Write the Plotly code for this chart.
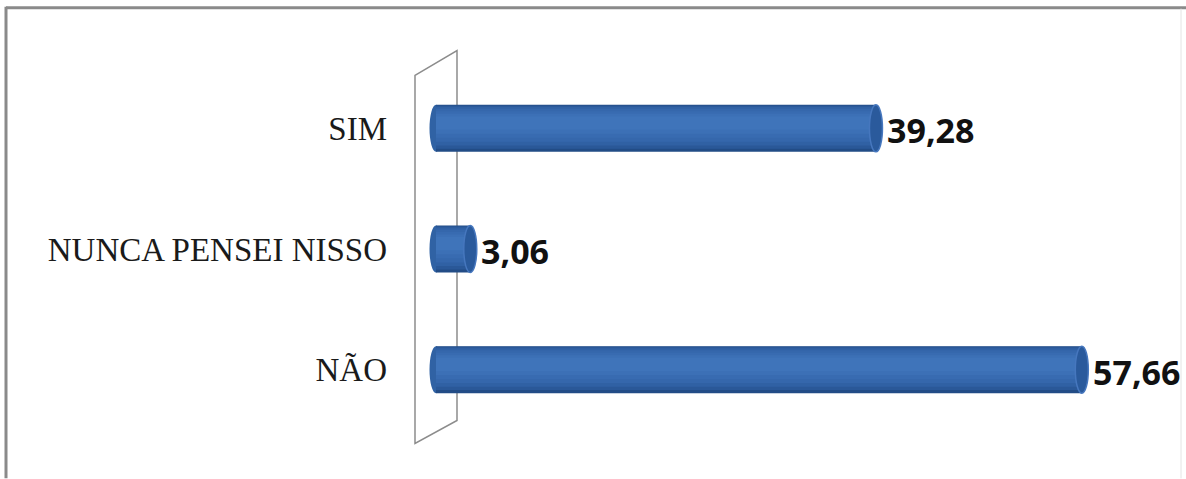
import plotly.graph_objects as go

# Survey answers (percent), listed bottom to top
categories = ["NÃO", "NUNCA PENSEI NISSO", "SIM"]
values = [57.66, 3.06, 39.28]

W, H = 1186, 479
PLOT_LEFT, PLOT_RIGHT = 422, 1175
PLOT_TOP, PLOT_BOTTOM = 67.5, 430.5
X_RANGE = [-1.25, 65.98]
BAR_W = 0.39

def px(x):
    return (x - PLOT_LEFT) / (PLOT_RIGHT - PLOT_LEFT)

def py(y):
    return (PLOT_BOTTOM - y) / (PLOT_BOTTOM - PLOT_TOP)

def fmt(v):
    return f"{v:.2f}".replace(".", ",")

fig = go.Figure()

# Cylinder shading built from stacked overlay layers (dark rim -> light core)
layers = [
    ("#224C86", 1.00, 0.000),
    ("#2A5898", 0.92, 0.010),
    ("#3061A4", 0.82, 0.018),
    ("#3567AC", 0.70, 0.025),
    ("#386BB1", 0.56, 0.032),
    ("#3C70B6", 0.42, 0.038),
    ("#3F74BA", 0.28, 0.044),
]
for color, frac, shift in layers:
    w = BAR_W * frac
    fig.add_trace(go.Bar(
        x=values, y=categories, orientation="h",
        width=w, offset=-w / 2 + shift,
        marker=dict(color=color, line=dict(width=0)),
        hoverinfo="skip", showlegend=False,
    ))

units_per_px = (X_RANGE[1] - X_RANGE[0]) / (PLOT_RIGHT - PLOT_LEFT)
cap_rx = 6.5 * units_per_px

shapes = []
# 3D back wall behind the bars
wall = [(415, 75), (457, 50), (457, 421), (415, 444)]
path = "M " + " L ".join(f"{px(a):.5f},{py(b):.5f}" for a, b in wall) + " Z"
shapes.append(dict(type="path", path=path, xref="paper", yref="paper",
                   line=dict(color="#8C8C8C", width=1.5), fillcolor="rgba(0,0,0,0)",
                   layer="below"))

for i, (cat, v) in enumerate(zip(categories, values)):
    # rounded left end
    shapes.append(dict(type="circle", xref="x", yref="y",
                       x0=-cap_rx, x1=cap_rx, y0=i - BAR_W / 2, y1=i + BAR_W / 2,
                       fillcolor="#3062A4", line=dict(width=0), layer="below"))
    # right end cap
    shapes.append(dict(type="circle", xref="x", yref="y",
                       x0=v - cap_rx, x1=v + cap_rx, y0=i - BAR_W / 2, y1=i + BAR_W / 2,
                       fillcolor="#2A5A9C", line=dict(color="#4677BE", width=1.5),
                       layer="above"))

# outer frame
shapes += [
    dict(type="line", xref="paper", yref="paper", x0=px(6), x1=px(1186), y0=py(7), y1=py(7),
         line=dict(color="#8A8A8A", width=3)),
    dict(type="line", xref="paper", yref="paper", x0=px(6), x1=px(6), y0=py(6), y1=py(479),
         line=dict(color="#8A8A8A", width=3)),
    dict(type="line", xref="paper", yref="paper", x0=px(1181), x1=px(1181), y0=py(8), y1=py(479),
         line=dict(color="#E4E4E4", width=1)),
]

annotations = [
    dict(x=v, y=cat, xref="x", yref="y", text=fmt(v), showarrow=False,
         xanchor="left", yanchor="middle", xshift=9, yshift=-2,
         font=dict(family="Open Sans", size=34, color="#111111", weight="bold"))
    for cat, v in zip(categories, values)
]

fig.update_layout(
    width=W, height=H,
    margin=dict(l=PLOT_LEFT, r=W - PLOT_RIGHT, t=PLOT_TOP, b=H - PLOT_BOTTOM, pad=0),
    barmode="overlay",
    paper_bgcolor="white", plot_bgcolor="white",
    shapes=shapes, annotations=annotations,
    xaxis=dict(range=X_RANGE, visible=False, fixedrange=True),
    yaxis=dict(type="category", categoryorder="array", categoryarray=categories,
               range=[-0.5, 2.5], showgrid=False, zeroline=False, showline=False,
               ticks="", ticklabelstandoff=34,
               tickfont=dict(family="Liberation Serif", size=33, color="#1A1A1A")),
    showlegend=False,
)

fig.write_html("out.html")
